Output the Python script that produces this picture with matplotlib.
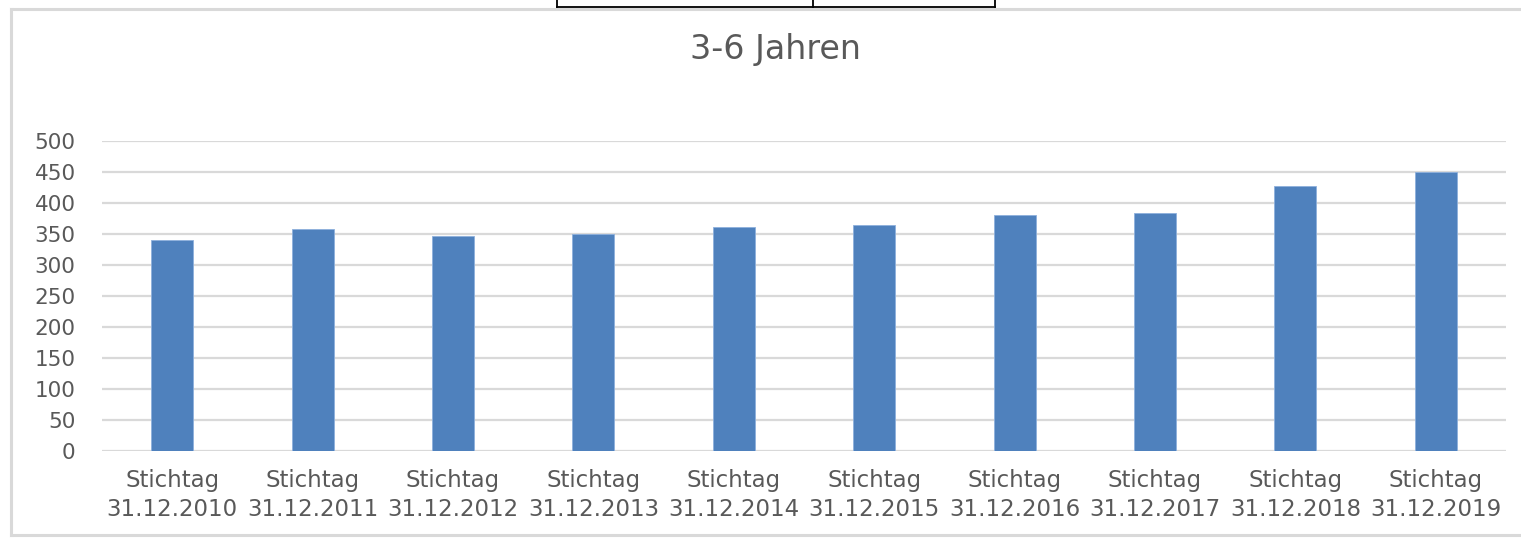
import matplotlib
matplotlib.use("Agg")
import matplotlib.pyplot as plt
from matplotlib.lines import Line2D

plt.rcParams['font.family'] = ['DejaVu Sans']

title = "3-6 Jahren"
categories = ["Stichtag\n31.12.2010", "Stichtag\n31.12.2011", "Stichtag\n31.12.2012",
              "Stichtag\n31.12.2013", "Stichtag\n31.12.2014", "Stichtag\n31.12.2015",
              "Stichtag\n31.12.2016", "Stichtag\n31.12.2017", "Stichtag\n31.12.2018",
              "Stichtag\n31.12.2019"]
values = [340, 358, 346, 350, 361, 365, 380, 384, 427, 450]
yticks = [0, 50, 100, 150, 200, 250, 300, 350, 400, 450, 500]

W, H = 1521, 540
fig = plt.figure(figsize=(W / 100, H / 100), dpi=100)
fig.patch.set_facecolor("white")

# outer chart frame (light gray)
fig.add_artist(Line2D([11 / W, 11 / W], [1 - 9 / H, 1 - 535 / H], color="#d9d9d9", lw=2.2, transform=fig.transFigure))
fig.add_artist(Line2D([11 / W, 1.0], [1 - 9 / H, 1 - 9 / H], color="#d9d9d9", lw=2.2, transform=fig.transFigure))
fig.add_artist(Line2D([11 / W, 1.0], [1 - 535 / H, 1 - 535 / H], color="#d9d9d9", lw=2.2, transform=fig.transFigure))

# fragment of a table above the chart
for xs, ys in [([557, 557], [0, 7]), ([813, 813], [0, 7]), ([995, 995], [0, 7]), ([557, 995], [7, 7])]:
    fig.add_artist(Line2D([x / W for x in xs], [1 - y / H for y in ys], color="black", lw=1.3, transform=fig.transFigure))

ax = fig.add_axes([102 / W, 1 - 451 / H, (1506 - 102) / W, (451 - 141) / H])
x = list(range(len(categories)))
ax.bar(x, values, width=0.3, color="#4f81bd", edgecolor="#8eb0dc", linewidth=0.6, zorder=3)
ax.set_xlim(-0.5, len(categories) - 0.5)
ax.set_ylim(0, 500)
ax.set_yticks(yticks)
ax.set_xticks(x)
ax.set_xticklabels(categories, fontsize=16.5, color="#595959", linespacing=1.35)
ax.tick_params(axis='y', labelsize=15.5, labelcolor="#595959", length=0, pad=19)
ax.tick_params(axis='x', length=0, pad=13)
ax.grid(axis='y', color="#d9d9d9", lw=1.6, zorder=0)
for s in ax.spines.values():
    s.set_visible(False)

fig.text(776 / W, 1 - 50 / H, title, ha="center", va="center", fontsize=24, color="#595959")

fig.savefig("out.png", dpi=100, facecolor="white")
